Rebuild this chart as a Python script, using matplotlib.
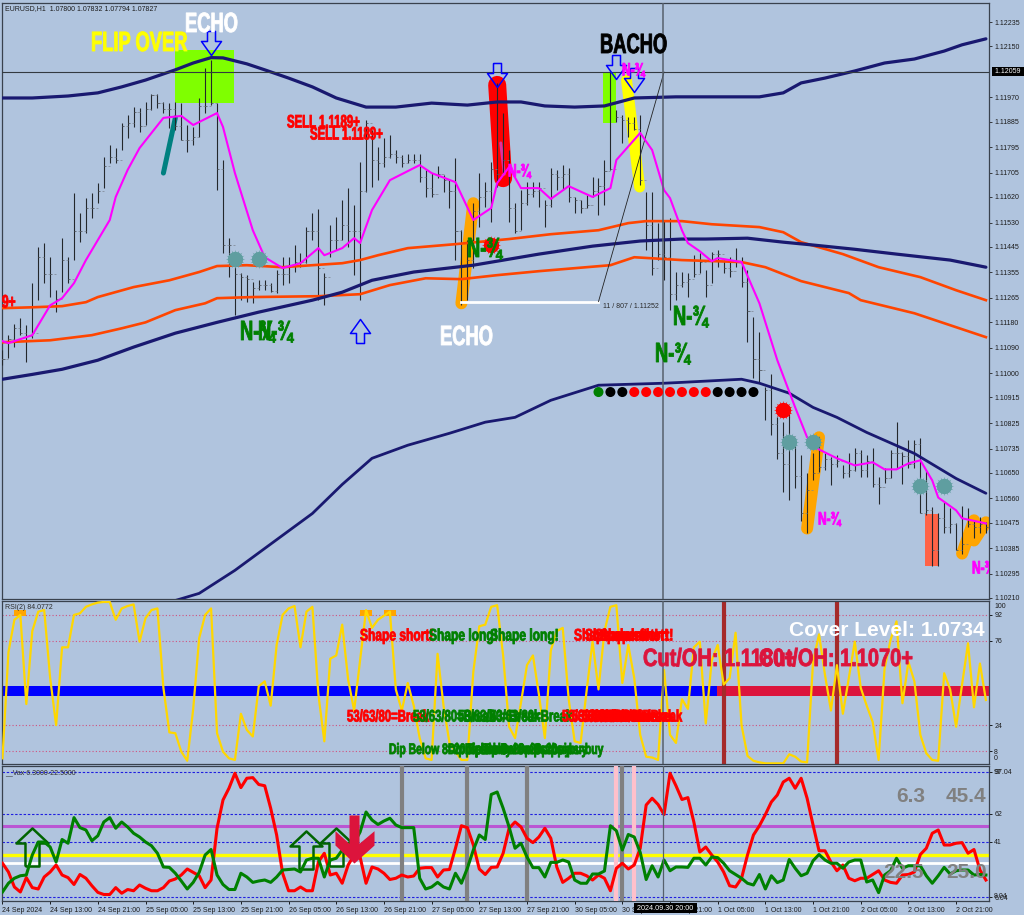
import numpy as np
import matplotlib
matplotlib.use("Agg")
import matplotlib.pyplot as plt
import matplotlib.patheffects as pe
from matplotlib.patches import Rectangle
from matplotlib.transforms import Affine2D

W, H_PX = 1024, 915
BG = "#B0C4DE"

# ---- data: prices are in pips above 1.1000 ----
high = [108.1,113.4,117.3,119.4,116.9,131.7,144.4,145.8,140.8,129.2,147.5,140.8,163.4,156.3,161.6,163.4,166.9,176,180.3,179.2,
188,190.8,193.6,193.3,195.4,198.2,198.2,195.4,195,195.4,195,187.3,186.6,196.8,207.4,210.2,195,175,147.5,137.3,
135.2,134.5,132,132.7,132.7,131.7,136.3,140.8,140.8,145.1,142.2,151.4,156.3,157.7,135.2,152.1,154.9,160.9,165.1,159.1,
174.3,189.1,185.5,179.6,182.7,183.8,178.5,176.7,177.1,177.1,177.1,171.5,170.4,172.9,169.7,167.9,175.7,150.3,146.8,159.8,
170.4,167.2,174.3,202.1,191.5,178.5,159.8,164.4,167.2,167.2,167.2,160.9,172.2,171.5,173.2,172.2,162,160.9,162.7,169,
168.6,175,206.7,192.6,190.8,190.1,190.1,190.8,163.7,163.7,152.8,153.9,154.6,135.6,135.6,135.2,141.5,142.2,136.3,142.6,
143.3,139.8,140.8,144,140.8,136.3,119.7,114.4,95.1,99.7,84.5,82.8,85.9,77.1,71.1,64.8,71.8,77.5,71.8,70.4,
71.1,67.6,71.8,73.6,72.9,71.1,73.6,63.4,66.6,72.9,82.8,72.2,76.4,76.4,77.1,65.9,52.8,50.7,54.6,52.5,
47.2,53.5,52.5,48.3,49.3,47.6]
low = [102.8,105.3,109.2,113.4,103.9,112.3,125.7,131.7,126.8,121.5,128.5,131.7,139.8,146.1,149.3,154.6,159.8,165.1,173.9,173.9,
178.5,182.7,186.6,184.8,187.3,192.6,193.3,191.5,186.2,185.5,182,177.8,180.3,183.1,191.5,194.3,164.4,142.2,133.8,120.4,
125.7,125,124.6,129.2,129.2,128.5,128.2,131,131.7,135.6,137.3,138.7,146.8,125.7,123.9,140.8,143.3,146.8,144.4,134.5,
125.7,163.7,165.5,167.9,172.5,175.7,173.9,172.5,173.9,173.9,167.2,162,162,168.6,163.7,158.1,139.8,123.9,125.7,137,
151.4,158.4,153.2,165.5,170.4,153.2,149.3,150.3,159.1,162,158.4,151.4,158.4,164.4,164.4,160.2,156.3,156.3,158.1,162,
155.6,159.1,171.5,188.4,181,183.1,185.5,166.2,143.3,134.5,139.8,132.7,122.2,125.7,130.3,126.8,133.8,135.2,126.8,131.7,
137.3,135.2,133.8,137.3,130.3,110.9,98.2,96.5,83.5,78.2,69.7,58.1,55.3,59.5,47.9,44,62.3,65.2,65.9,60.6,
66.9,63,63.4,65.5,63.4,63.4,59.9,53.9,61.3,63,66.6,60.9,66.6,66.6,50.7,50,32.4,32.4,43.7,44,
37.7,36.6,45.8,41.9,43.7,43.7]
close = [105,112,116,114,113,114,141,135,135,126,140,133,150,150,158,158,164,173,176,175,
187,188,192,187,193,198,195,193,193,187,182,182,183,194,194,195,172,145,145,135,
134,133,130,131,131,129,135,135,138,139,139,150,150,137,134,147,147,152,150,150,
164,188,175,174,176,177,176,174,175,175,169,165,163,170,168,164,150,125,140,157,
162,164,172,170,175,158,150,160,163,164,165,159,170,169,170,162,161,158,159,164,
166,171,172,190,189,188,186,168,152,137,142,141,128,131,132,133,135,139,131,142,
142,137,136,139,132,122,105,101,94,82,72,68,78,64,51,59,65,67,70,68,
69,65,66,72,66,69,61,60,63,72,72,71,68,75,51,52,38,49,46,47,
38,40,47,46,47,46]

top_navy_bar = [0,5,11,16,20,24,29,32,35,37,41,44,48,52,56,61,66,72,78,83,87,91,96,101,106,113,121,125,127,131,134,138,143,148,153,158,161,165]
top_navy = [196.8,196.8,197.5,198.6,200.7,203.1,206.7,209.1,211,210.9,208.8,206.7,203.8,200.7,196.8,193.6,193.6,195,194.3,195.4,195.4,194,193.6,194,196.8,197.2,197.2,197.2,197.2,198.6,202.1,203.8,206.3,209.1,210.5,213.3,215.5,217.6]
orange_up_bar = [0,5,10,14,16,22,28,33,36,41,47,57,60,63,68,76,85,92,100,105,108,114,119,127,131,134,141,147,154,160,165]
orange_up = [122.9,123.2,123.6,125,126.8,130.3,132.7,135.6,137.7,138,137.3,138.7,139.8,141.5,144,145.4,147.2,148.9,150.3,152.8,153.5,153.5,152.4,151.4,149.6,146.1,141.9,137.3,133.8,129.2,125.7]
orange_lo_bar = [0,8,15,20,24,29,34,36,42,53,60,65,71,77,83,90,102,106,114,124,128,134,142,144,153,158,165]
orange_lo = [110.9,111.6,113.4,115.8,117.9,122.2,124.6,126.4,126.8,127.1,127.8,131,133.4,133.1,134.5,135.9,138,140.8,139.8,139.1,137.3,132.4,128.2,125.7,121.1,117.6,112.7]
mid_navy_bar = [0,5,10,16,22,29,36,43,52,57,62,69,79,90,99,107,114,118,125,131,136,143,150,159,165]
mid_navy = [97.9,99.6,101.4,104.6,109.2,114.1,117.9,121.5,125.7,128.5,132.7,135.6,138,141.9,144.7,146.5,147.2,147.2,147.5,146.1,145.1,143.6,141.9,139.8,137.3]
low_navy_bar = [29,33,39,44,52,57,62,68,75,81,86,92,100,111,114,124,127,132,136,140,145,153,160,165]
low_navy = [20.1,22.6,30.7,38.4,50.7,60.9,70.1,74.7,78.9,82.8,84.5,90.5,95.8,96.5,96.8,97.9,96.5,93,88,84.5,79.2,71.8,63,57.8]
magenta_bar = [0,1,5,6,8,10,12,14,18,19,21,23,25,27,30,32,36,37,39,42,44,47,50,53,54,57,59,60,62,65,70,72,76,79,82,83,85,87,90,92,95,99,102,103,107,109,111,112,114,115,117,119,120,124,127,130,133,135,137,140,143,146,148,150,152,154,156,157,160,161,165]
magenta = [111.3,110.6,113.4,116.9,123.9,126.4,131.7,139.8,153.9,162,171.5,179.2,184.5,189.8,190.5,187.3,191.5,186.6,170.4,150.3,140.8,137,138.7,144,141.5,144,147.5,145.8,157.4,167.9,173.2,170.4,167.2,153.9,158.1,166.9,172.5,165.1,165.1,161.3,165.8,162,165.1,175,184.5,178.5,164.4,161.6,150.3,145.8,142.9,139.4,140.5,139.1,124.6,104.6,88,77.5,73.2,70.1,67.6,68.7,66.2,66.2,68.3,69.4,62.3,56.3,51.8,49,47.2]

rsi = [3.5,69,89,92,37,82,94,95,53,24,72,72,92,93,97,98.5,99.6,100,100,89,
96,97.5,98.5,75.5,90,95,96,47,19.5,19,7.6,2,34,77.6,92,96,19,7.6,3.5,2.5,
31,21,17,48,51,36,73.5,92,96,97.5,72,94,97,43,14,65,67,86,52,33,
64,95,84,89,91.5,94,46,33,50,36,16,3.5,2.5,68,36,13,7.6,2.5,2.5,57,
85,86,97,98,67,23,16,38,61,67,43,16,70,82,84,40,14,13,45,75.5,
46,82,97,98,50,73.5,53,18,4.5,4,2.5,58,18,13,40,34,72,75.5,25,64,
73.5,49,53,81,24,5,2,1,0.4,0.4,0.4,0.4,6,4.5,1.5,1,63,80,55,33,
61,31,53,75.5,47,36,26,2.5,59,76.5,88,37.5,63,51,18,6.6,2.5,2,56,46,
23,49,74.5,35,62,39.5]

vax_red = [27,20,8,4,15.5,7.5,6.4,16,20,25.6,17.6,15.5,10,18,15,9,3.7,2,2,7.5,
3,6,5,9.6,7,5,5,7.5,12.8,14.4,17.6,22.4,19.7,17,7.5,13.6,55,77.6,87,99,
87.5,95,95.5,90,89,71,49.6,19,5,5,8,5,5,28,35,17.6,19,11,25.6,33.6,
32,11,24,22.4,19,14,15,17.6,16,16.8,23,23.5,23.5,16,21.6,22,39,57,55.5,41.6,
22.4,18,23.7,24,35,55,60,56,47,43.5,48,55,47,24,11.7,15,19,19,17,13.6,
17.6,15,5,23,27,22.4,25.6,39,73.6,79,74,66,99,89,78,79.5,60,36,40,33.6,
28,20,9,8,15,33.6,49.6,57,66,76,81.6,92,95,87,95,79,57.6,37,37,28,
21,25.6,15,13,15,15,18,21,13.6,11.7,11,17.6,18,20,34,39,51,53.6,41.6,41.6,
43,43.5,35,38,21.6,13.6]
vax_green = [4,11,15,17,17.6,33.6,44,44,40,28,46,43,63.5,55.5,53.6,45,49,60,63.5,55,
60,56,51,48,44,41,35,24,23.7,19,12.8,6.4,11.7,19.7,33.6,38,17.6,10,6,6,
19,16,11.7,12.8,13.6,11.7,16,21.6,22,22.4,20,29.6,31,31,16,29.6,31,37.6,43,43,
52,68,61.6,58,60.8,63,57.6,55.5,55.5,55.5,15,6.4,8,11.7,8,6.4,19,11,23,37.6,
49.6,46,82,84,71,56,39,43,32,23.5,23.5,16,27.7,27.7,29.6,28,13.6,11,11,18.4,
18.4,20.8,57,53,37.6,50,48,35.7,14,25,16,29.6,21,24,24,23.7,31,31,25.6,32,
31.5,27,21,18,15,11,9.6,18,6.4,17,11.5,13.6,30,23,17,19,29,34,29.6,27,
27,23,28,29.6,29.6,12,13.6,3.5,17.6,21,31,23,25,25,25,17,11,17,23.7,18.4,
21,21.6,21.6,17.6,18,17.6]

price_ticks = [1.12235,1.12150,1.11970,1.11885,1.11795,1.11705,1.11620,1.11530,1.11445,1.11355,1.11265,1.11180,1.11090,1.11000,1.10915,1.10825,1.10735,1.10650,1.10560,1.10475,1.10385,1.10295,1.10210]
rsi_levels = [92,76,24,8]
vax_levels = [100,66.4,44,0]
vax_level_labels = ["97.04","62","41","6.04"]
time_bars = list(range(0,161,8))
time_labels = ["24 Sep 2024","24 Sep 13:00","24 Sep 21:00","25 Sep 05:00","25 Sep 13:00","25 Sep 21:00","26 Sep 05:00","26 Sep 13:00","26 Sep 21:00","27 Sep 05:00","27 Sep 13:00","27 Sep 21:00","30 Sep 05:00","30 Sep 13:00","30 Sep 21:00","1 Oct 05:00","1 Oct 13:00","1 Oct 21:00","2 Oct 05:00","2 Oct 13:00","2 Oct 21:00"]
dot_bars = list(range(100,127,2))
dot_colors = ["green","black","black"]+["red"]*7+["black"]*4

def P(v):
    return 1.1 + np.asarray(v, float)/1e4

class Narrow(pe.AbstractPathEffect):
    """Squeezes glyph outlines sideways (the heavy condensed look of the labels)."""
    def __init__(self, sx, thick, color):
        super().__init__()
        self.sx, self.thick, self.color = sx, thick, color
    def draw_path(self, renderer, gc, tpath, affine, rgbFace):
        g = renderer.new_gc()
        g.copy_properties(gc)
        g.set_foreground(self.color)
        g.set_linewidth(self.thick)
        g.set_joinstyle("round")
        renderer.draw_path(g, tpath, Affine2D().scale(self.sx, 1) + affine, rgbFace)
        g.restore()

fig = plt.figure(figsize=(W/100, H_PX/100), dpi=100, facecolor=BG)
def ax_px(l, t, r, b):
    a = fig.add_axes([l/W, 1-b/H_PX, (r-l)/W, (b-t)/H_PX], facecolor=BG)
    for s in a.spines.values():
        s.set_color("#39424e"); s.set_linewidth(0.9)
    a.set_xlim(-0.08, 165.57)
    return a

SANS = ["Liberation Sans","DejaVu Sans"]

def T(x, y, s, color, size, sx=0.66, thick=0.6, ha="left"):
    t = fig.text(x/W, 1-y/H_PX, s, color=color, fontsize=size, family=SANS,
                 fontweight="bold", ha=ha, va="center", zorder=30)
    t.set_path_effects([Narrow(sx, thick, color)])
    return t

def B(x, y, s, color, size):
    return fig.text(x/W, 1-y/H_PX, s, color=color, fontsize=size, family=SANS,
                    fontweight="bold", ha="left", va="center", zorder=30)

def small(x, y, s, color="#1c1c1c", size=5, ha="left", **kw):
    return fig.text(x/W, 1-y/H_PX, s, color=color, fontsize=size, family=SANS, ha=ha, va="center", zorder=31, **kw)

# ---- main panel ----
ax = ax_px(2, 3, 989.3, 598.5)
ax.set_ylim(1.10208, 1.12302)
ax.yaxis.tick_right()
ax.set_yticks(price_ticks)
ax.set_yticklabels([f"{p:.5f}" for p in price_ticks], fontsize=5, family=SANS, color="#1c1c1c")
ax.tick_params(axis="y", length=2.5, width=0.6, pad=1, color="#222222")
ax.set_xticks([])

ax.add_patch(Rectangle((29, P(195)), 9.9, P(213.7)-P(195), color="#7FFF00", lw=0, zorder=1))
ax.add_patch(Rectangle((100.8, P(188)), 2.1, P(205.6)-P(188), color="#7FFF00", lw=0, zorder=1))
ax.add_patch(Rectangle((154.7, P(32.4)), 2.3, P(50.4)-P(32.4), color="#FF6347", lw=0, zorder=1))

def stroke(bars, vals, color, px):
    ax.plot(bars, P(vals), color=color, lw=px*0.72, solid_capstyle="round", solid_joinstyle="round", zorder=2)

stroke([27, 29], [170.4, 189.8], "#008080", 5)
stroke([83, 84], [201.4, 168.6], "#FF0000", 18)
stroke([83.6, 84.2], [181, 170], "#E0309F", 3)
stroke([79, 77], [159.8, 124.6], "#FFA500", 12)
stroke([104.7, 106.9], [203.1, 165.5], "#FFFF00", 11)
stroke([137, 135], [77.5, 45.4], "#FFA500", 12)
stroke([161, 163, 163, 165], [36.6, 48.3, 41.2, 47.6], "#FFA500", 12)

xs = np.arange(len(high))
ax.vlines(xs, P(low), P(high), color="#23272b", lw=0.8, zorder=4)
ax.hlines(P(close), xs, xs+0.35, color="#555b63", lw=0.6, zorder=4)
ax.hlines(P(np.r_[close[0], close[:-1]]), xs-0.35, xs, color="#7b8390", lw=0.5, zorder=4)

ax.plot(orange_up_bar, P(orange_up), color="#FF4500", lw=1.9, zorder=5)
ax.plot(orange_lo_bar, P(orange_lo), color="#FF4500", lw=1.9, zorder=5)
ax.plot(top_navy_bar, P(top_navy), color="#191970", lw=2.3, zorder=5, solid_capstyle="round")
ax.plot(mid_navy_bar, P(mid_navy), color="#191970", lw=2.3, zorder=5, solid_capstyle="round")
ax.plot(low_navy_bar, P(low_navy), color="#191970", lw=2.0, zorder=5, solid_capstyle="round")
ax.plot(magenta_bar, P(magenta), color="#FF00FF", lw=1.5, zorder=6)

ax.plot([77, 100], P([125.2, 125.2]), color="white", lw=2, zorder=5)
ax.plot([100, 111], P([125.2, 205.9]), color="#222222", lw=0.6, zorder=5)
ax.axhline(1.12059, color="#333a40", lw=0.8, zorder=6)
ax.axvline(110.8, color="#56606c", lw=1.1, zorder=6)

def burst(bars, vals, color):
    ax.plot(bars, P(vals), ls="none", marker="o", ms=11, color=color, mew=0, zorder=8)
    ax.plot(bars, P(vals), ls="none", marker=(16, 1, 0), ms=14, color=color, mew=0, zorder=8)
burst([39, 43, 132, 136, 154, 158], [140.1, 140.1, 75.7, 75.7, 60.2, 60.2], "#5F9EA0")
burst([82, 131], [145, 87], "#FF0000")

ax.scatter(dot_bars, P([93.4]*len(dot_bars)), c=dot_colors, s=52, lw=0, zorder=8)

down = [(-4,12),(4,12),(4,2),(10,2),(0,-12),(-10,2),(-4,2),(-4,12)]
up = [(x,-y) for x,y in down]
ax.plot([35, 83, 103, 106], P([216.2, 205, 207.7, 203.1]), ls="none", marker=down, ms=17.3,
        mfc="none", mec="#0000FF", mew=1.1, zorder=9)
ax.plot([60], P([115]), ls="none", marker=up, ms=17.3, mfc="none", mec="#0000FF", mew=1.1, zorder=9)

# ---- RSI panel ----
ax2 = ax_px(2, 600.5, 989.3, 764)
ax2.set_ylim(0, 100.9)
ax2.plot([-0.08, 119.9], [45, 45], color="#0000FF", lw=7.2, solid_capstyle="butt", zorder=1)
ax2.plot([119.9, 165.57], [45, 45], color="#DC143C", lw=7.2, solid_capstyle="butt", zorder=1)
for v in rsi_levels:
    ax2.axhline(v, color="#D2527F", lw=0.8, ls=(0, (1, 2)), zorder=2)
ax2.axvline(121, color="#A52A2A", lw=3, zorder=2)
ax2.axvline(140, color="#A52A2A", lw=3, zorder=2)
flag = [(-6,-3.5),(6,-3.5),(6,3.5),(-6,3.5),(-6,-3.5)]
ax2.plot([3, 61, 65], [93, 93, 93], ls="none", marker=flag, ms=8.6, color="#FFA500", mew=0, zorder=3)
ax2.plot(xs, rsi, color="#FFD700", lw=1.6, zorder=4)
ax2.axvline(110.8, color="#56606c", lw=1.1, zorder=6)
ax2.yaxis.tick_right()
ax2.set_xticks([])
ax2.set_yticks(rsi_levels)
ax2.set_yticklabels([str(v) for v in rsi_levels], fontsize=5, family=SANS, color="#1c1c1c")
ax2.tick_params(axis="y", length=2.5, width=0.6, pad=1)

# ---- Vax panel ----
ax3 = ax_px(2, 766, 989.3, 901)
ax3.set_ylim(-3.2, 104.8)
for v in vax_levels:
    ax3.axhline(v, color="#1F1FE0", lw=0.8, ls=(0, (2.2, 1.6)), zorder=1)
ax3.axhline(57, color="#BA55D3", lw=2.2, zorder=2)
ax3.axhline(33.3, color="#FFFF00", lw=2.4, zorder=2)
ax3.axhline(27.5, color="#FFFFFF", lw=2.0, zorder=2)
for b in [67, 78, 88, 104]:
    ax3.axvline(b, color="#808080", lw=3, zorder=3)
for b in [103, 106]:
    ax3.axvline(b, color="#FFC0CB", lw=3, zorder=3)
up_big = [(-7,-19),(7,-19),(7,4),(16,4),(0,19),(-16,4),(-7,4),(-7,-19)]
ax3.plot([5, 51, 56], [40, 38, 40], ls="none", marker=up_big, ms=27.4, mfc="none", mec="#006400", mew=1.8, zorder=4)
ax3.plot(xs, vax_red, color="#FF0000", lw=2.2, zorder=5)
ax3.plot(xs, vax_green, color="#008000", lw=2.2, zorder=6)
arrow = [(5,24),(5,-4.3),(20,8.3),(20,-6),(0,-24),(-19,-6),(-19,8.3),(-5,-4.3),(-5,24),(5,24)]
ax3.plot([59], [46.4], ls="none", marker=arrow, ms=34.6, color="#DC143C", mew=0, zorder=7)
ax3.axvline(110.8, color="#56606c", lw=0.9, zorder=8)
ax3.yaxis.tick_right()
ax3.set_yticks(vax_levels)
ax3.set_yticklabels(vax_level_labels, fontsize=5, family=SANS, color="#1c1c1c")
ax3.tick_params(axis="y", length=2.5, width=0.6, pad=1)
ax3.set_xticks(time_bars)
ax3.set_xticklabels(time_labels, fontsize=5, family=SANS, color="#1c1c1c", ha="left")
ax3.tick_params(axis="x", length=2.5, width=0.6, pad=2)

# ---- text ----
small(5, 8.5, "EURUSD,H1  1.07800 1.07832 1.07794 1.07827")
small(5, 607.5, "RSI(2) 84.0772", color="#2a2a2a")
small(5, 773, "__Vax 6.3000-22.5000", color="#2a2a2a")
small(603, 306, "11 / 807 / 1.11252", color="#2a2a2a")
small(994, 606, "100")
small(994, 759, "0")
small(994, 772, "97")
small(994, 897, "8.04")
small(993, 71.5, " 1.12059 ", color="white", bbox=dict(facecolor="black", edgecolor="none", pad=1))
small(635, 908, " 2024.09.30 20:00 ", color="white", size=5.2, bbox=dict(facecolor="black", edgecolor="none", pad=1))

T(185, 25, "ECHO", "white", 20)
T(91, 44, "FLIP OVER", "#FFFF00", 20)
T(600, 46, "BACHO", "black", 20)
T(440, 338, "ECHO", "white", 20)
T(287, 123, "SELL 1.1189+", "#FF0000", 13, sx=0.63)
T(310, 135, "SELL 1.1189+", "#FF0000", 13, sx=0.63)
T(2, 303, "9+", "#FF0000", 13)
for x, y in [(240, 333), (258, 333), (467, 250), (673, 318), (655, 355)]:
    T(x, y, "N-¾", "#008000", 20)
for x, y in [(508, 172), (622, 71), (818, 520)]:
    T(x, y, "N-¾", "#FF00FF", 13)
t_clip = T(972, 569, "N-¾", "#FF00FF", 13)
t_clip.set_clip_box(ax.bbox)
t_clip.set_clip_on(True)

for x in [574, 585, 595, 600]:
    T(x, 636, "Shape short!", "#FF0000", 12, sx=0.72)
T(360, 636, "Shape short!", "#FF0000", 12, sx=0.72)
T(429, 636, "Shape long!", "#008000", 12, sx=0.72)
T(490, 636, "Shape long!", "#008000", 12, sx=0.72)
T(347, 717, "53/63/80=Break", "#FF0000", 12, sx=0.68)
for x in [413, 458, 490]:
    T(x, 717, "53/63/80=Break", "#008000", 12, sx=0.68)
for x in [562, 572, 582, 592, 600]:
    T(x, 717, "53/63/80=Break", "#FF0000", 12, sx=0.68)
for x in [389, 448, 465, 481]:
    T(x, 750, "Dip Below 8=20pips=buy", "#008000", 11, sx=0.68)
T(643, 659, "Cut/OH: 1.1180+", "#DC143C", 18, sx=0.8)
T(759, 659, "Cut/OH: 1.1070+", "#DC143C", 18, sx=0.8)
B(789, 630, "Cover Level: 1.0734", "white", 15)
B(896, 796, "6.3", "#808080", 15)
B(946, 796, "45.4", "#808080", 15)
B(883, 873, "22.5", "#808080", 15)
B(946, 873, "25.0", "#808080", 15)

fig.savefig("out.png", dpi=100, facecolor=BG)
